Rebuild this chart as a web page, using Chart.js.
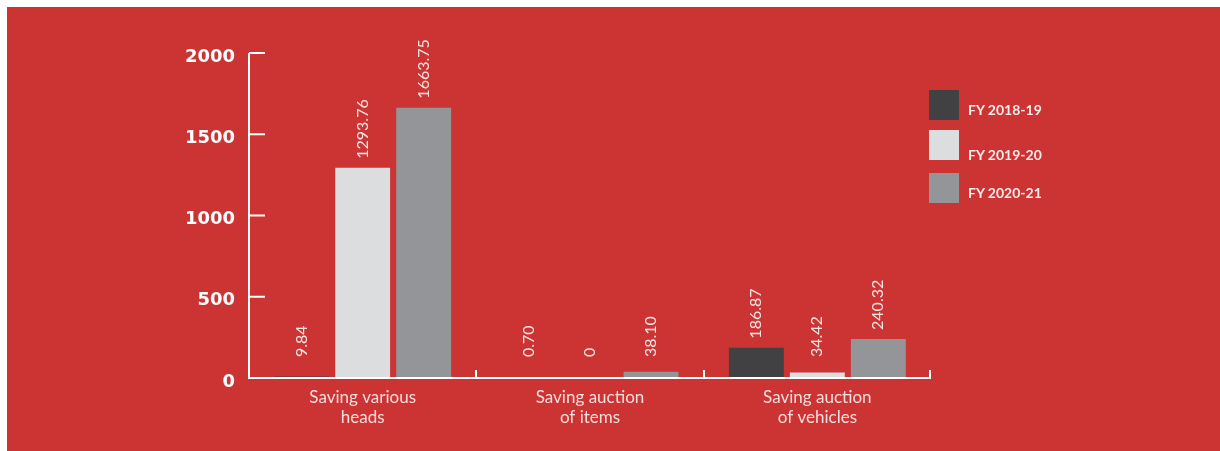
<!DOCTYPE html>
<html>
<head>
<meta charset="utf-8">
<script src="https://cdn.jsdelivr.net/npm/chart.js@4"></script>
<style>
  body { margin: 0; background: #fff; }
  #wrap { position: absolute; left: 7px; top: 7px; width: 1213px; height: 444px; background: #cc3333; }
  #legend { position: absolute; left: 922px; top: 83px; font-family: Lato, sans-serif; font-weight: bold; font-size: 14px; color: #fbecec; }
  .item { position: absolute; left: 0; width: 140px; height: 30px; }
  .box { position: absolute; left: 0; top: 0; width: 30px; height: 30px; }
  .txt { position: absolute; left: 39px; white-space: nowrap; }
</style>
</head>
<body>
<div id="wrap">
  <canvas id="myChart" width="1213" height="444"></canvas>
  <div id="legend"></div>
</div>
<script>
const categories = [['Saving various', 'heads'], ['Saving auction', 'of items'], ['Saving auction', 'of vehicles']]
const seriesNames = ['FY 2018-19', 'FY 2019-20', 'FY 2020-21']
const fy1819 = [9.84, 0.70, 186.87]
const fy1920 = [1293.76, 0, 34.42]
const fy2021 = [1663.75, 38.10, 240.32]
const valueLabels = [['9.84', '0.70', '186.87'], ['1293.76', '0', '34.42'], ['1663.75', '38.10', '240.32']]
const yTicks = [0, 500, 1000, 1500, 2000]

const colors = ['#414143', '#dcdddf', '#939598']
const white = '#ffffff'

// axis lines, inward tick marks, tick labels and category separators
const axesPlugin = {
  id: 'axesPlugin',
  afterDatasetsDraw(chart) {
    const { ctx, chartArea, scales } = chart
    const x = scales.x
    const y = scales.y
    ctx.save()
    ctx.strokeStyle = white
    ctx.lineWidth = 2
    ctx.beginPath()
    ctx.moveTo(chartArea.left, y.getPixelForValue(2000))
    ctx.lineTo(chartArea.left, y.getPixelForValue(0))
    ctx.lineTo(chartArea.right, y.getPixelForValue(0))
    yTicks.forEach((v) => {
      const py = y.getPixelForValue(v)
      ctx.moveTo(chartArea.left, py)
      ctx.lineTo(chartArea.left + 16, py)
    })
    const base = y.getPixelForValue(0)
    for (let i = 1; i <= categories.length; i++) {
      const px = Math.round((x.getPixelForValue(i - 1) + x.getPixelForValue(i)) / 2)
      const sx = i === categories.length ? chartArea.right - 1 : px
      ctx.moveTo(sx, base)
      ctx.lineTo(sx, base - 8)
    }
    ctx.stroke()

    ctx.fillStyle = white
    ctx.font = 'bold 18px "DejaVu Sans", sans-serif'
    ctx.textAlign = 'right'
    ctx.textBaseline = 'middle'
    yTicks.forEach((v) => {
      ctx.fillText(String(v), chartArea.left - 14, y.getPixelForValue(v) + 4)
    })
    ctx.restore()
  },
}

// rotated value labels above the bars
const valuePlugin = {
  id: 'valuePlugin',
  afterDatasetsDraw(chart) {
    const { ctx } = chart
    const base = chart.scales.y.getPixelForValue(0)
    ctx.save()
    ctx.fillStyle = '#f7e4e4'
    ctx.font = '16px Lato, sans-serif'
    ctx.textAlign = 'left'
    ctx.textBaseline = 'middle'
    chart.data.datasets.forEach((ds, di) => {
      chart.getDatasetMeta(di).data.forEach((bar, i) => {
        const bottom = Math.min(bar.y - 9, base - 21)
        ctx.save()
        ctx.translate(bar.x, bottom)
        ctx.rotate(-Math.PI / 2)
        ctx.fillText(valueLabels[di][i], 0, 0)
        ctx.restore()
      })
    })
    ctx.restore()
  },
}

const data = {
  labels: categories,
  datasets: [fy1819, fy1920, fy2021].map((d, i) => ({
    label: seriesNames[i],
    data: d,
    backgroundColor: colors[i],
    borderWidth: 0,
    categoryPercentage: 0.805,
    barPercentage: 0.9,
  })),
}

const config = {
  type: 'bar',
  data,
  options: {
    responsive: false,
    devicePixelRatio: 1,
    animation: false,
    layout: { padding: { left: 0, top: 46, right: 289, bottom: 0 } },
    plugins: { legend: { display: false }, tooltip: { enabled: false } },
    scales: {
      x: {
        grid: { display: false, drawTicks: false },
        border: { display: false },
        ticks: {
          color: '#f7dede',
          font: { family: 'Lato, sans-serif', size: 17, lineHeight: 1.18 },
          padding: 9,
          maxRotation: 0,
        },
        afterFit(scale) { scale.height = 73 },
      },
      y: {
        min: 0,
        max: 2000,
        grid: { display: false, drawTicks: false },
        border: { display: false },
        ticks: { stepSize: 500, display: false },
        afterFit(scale) { scale.width = 242 },
      },
    },
  },
  plugins: [axesPlugin, valuePlugin],
}

new Chart(document.getElementById('myChart'), config)

// legend
const legend = document.getElementById('legend')
const boxTops = [0, 40, 83]
seriesNames.forEach((name, i) => {
  const item = document.createElement('div')
  item.className = 'item'
  item.style.top = boxTops[i] + 'px'
  item.innerHTML = `<div class="box" style="background:${colors[i]}"></div><div class="txt" style="top:${i === 1 ? 16 : 11}px">${name}</div>`
  legend.appendChild(item)
})
</script>
</body>
</html>
